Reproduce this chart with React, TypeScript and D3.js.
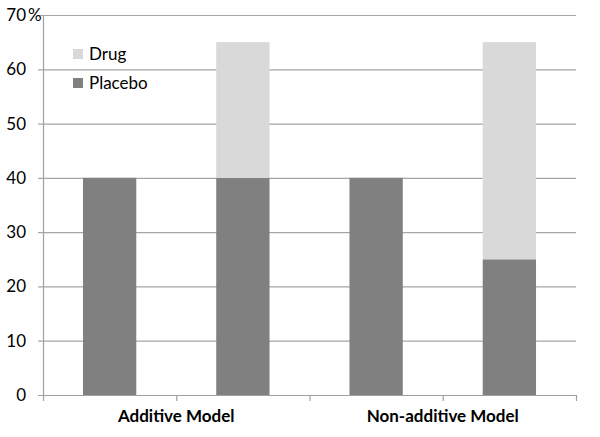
import React, { useRef, useEffect } from "react";
import * as d3 from "d3";

const bars = ["Additive-1", "Additive-2", "NonAdditive-1", "NonAdditive-2"];
const placebo = [40, 40, 40, 25];
const drug = [0, 25, 0, 40];
const groups = ["Additive Model", "Non-additive Model"];
const yTicks = [0, 10, 20, 30, 40, 50, 60, 70];

const W = 600;
const H = 437;
const FONT = "Lato, 'Open Sans', sans-serif";

const App = () => {
    const svgRef = useRef<SVGSVGElement>(null);

    useEffect(() => {
        const svg = d3.select(svgRef.current);
        svg.selectAll("*").remove();

        const x = d3.scaleBand()
            .domain(bars)
            .range([43, 576])
            .paddingInner(0.6)
            .paddingOuter(0.3);

        const y = d3.scaleLinear()
            .domain([0, 70])
            .range([395, 15]);

        // gridlines
        svg.append("g")
            .selectAll("line")
            .data(yTicks.filter(d => d > 0))
            .enter()
            .append("line")
            .attr("x1", 38)
            .attr("x2", 576)
            .attr("y1", d => y(d) + 0.5)
            .attr("y2", d => y(d) + 0.5)
            .style("stroke", "#a6a6a6")
            .style("stroke-width", 1.2);

        // y tick labels
        svg.append("g")
            .selectAll("text")
            .data(yTicks)
            .enter()
            .append("text")
            .attr("x", 26)
            .attr("y", d => y(d) + 6)
            .attr("text-anchor", "end")
            .style("font-family", FONT)
            .style("font-size", "17px")
            .style("fill", "#000")
            .text(d => d);

        svg.append("text")
            .attr("x", 28)
            .attr("y", y(70) + 6)
            .style("font-family", FONT)
            .style("font-size", "17px")
            .text("%");

        // placebo bars
        svg.append("g")
            .selectAll("rect")
            .data(bars)
            .enter()
            .append("rect")
            .attr("x", d => x(d)!)
            .attr("width", x.bandwidth())
            .attr("y", (d, i) => y(placebo[i]))
            .attr("height", (d, i) => y(0) - y(placebo[i]))
            .style("fill", "#808080");

        // drug bars stacked on top
        svg.append("g")
            .selectAll("rect")
            .data(bars)
            .enter()
            .append("rect")
            .attr("x", d => x(d)!)
            .attr("width", x.bandwidth())
            .attr("y", (d, i) => y(placebo[i] + drug[i]))
            .attr("height", (d, i) => y(placebo[i]) - y(placebo[i] + drug[i]))
            .style("fill", "#d9d9d9");

        // y axis line
        svg.append("line")
            .attr("x1", 43.5)
            .attr("x2", 43.5)
            .attr("y1", y(70))
            .attr("y2", y(0))
            .style("stroke", "#a0a0a0")
            .style("stroke-width", 1.2);

        // x axis line + ticks
        svg.append("line")
            .attr("x1", 38)
            .attr("x2", 576)
            .attr("y1", y(0) + 0.5)
            .attr("y2", y(0) + 0.5)
            .style("stroke", "#a0a0a0")
            .style("stroke-width", 1.2);

        const edges = bars.map(d => x(d)! - x.step() * x.paddingInner() / 2).concat([576]);
        svg.append("g")
            .selectAll("line")
            .data(edges)
            .enter()
            .append("line")
            .attr("x1", d => d + 0.5)
            .attr("x2", d => d + 0.5)
            .attr("y1", y(0))
            .attr("y2", y(0) + 6)
            .style("stroke", "#a0a0a0")
            .style("stroke-width", 1.2);

        // group labels
        svg.append("g")
            .selectAll("text")
            .data(groups)
            .enter()
            .append("text")
            .attr("x", (d, i) => edges[i * 2 + 1])
            .attr("y", 422)
            .attr("text-anchor", "middle")
            .style("font-family", FONT)
            .style("font-size", "17px")
            .style("font-weight", "bold")
            .text(d => d);

        // legend
        const legend = [
            { name: "Drug", color: "#d9d9d9" },
            { name: "Placebo", color: "#808080" },
        ];
        const lg = svg.append("g")
            .selectAll("g")
            .data(legend)
            .enter()
            .append("g")
            .attr("transform", (d, i) => `translate(73, ${49 + i * 29})`);
        lg.append("rect")
            .attr("width", 10)
            .attr("height", 10)
            .style("fill", d => d.color);
        lg.append("text")
            .attr("x", 16)
            .attr("y", 11)
            .style("font-family", FONT)
            .style("font-size", "17px")
            .text(d => d.name);
    }, []);

    return (
        <div style={{ position: "absolute", left: 0, top: 0 }}>
            <svg ref={svgRef} width={W} height={H} style={{ display: "block", background: "#fff" }}></svg>
        </div>
    );
};

export default App;
